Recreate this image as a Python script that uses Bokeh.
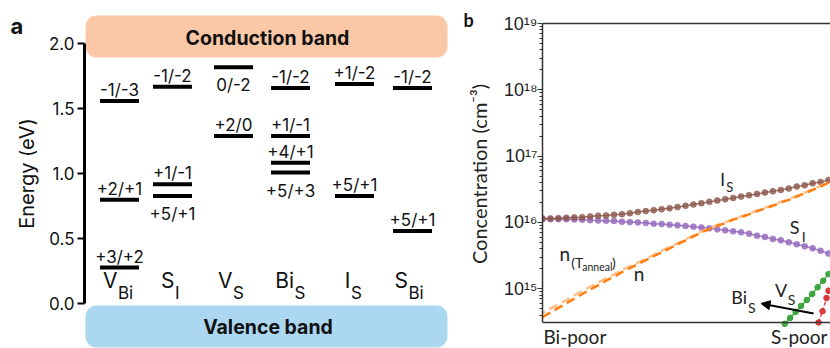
import numpy as np
from math import pi
from bokeh.plotting import figure
from bokeh.models import Range1d, FixedTicker, PrintfTickFormatter, Arrow, NormalHead, CustomJSTickFormatter, Span
from bokeh.layouts import row
from bokeh.embed import file_html
from bokeh.resources import INLINE
from bokeh.core.properties import value

# ---------------- data: panel a (defect transition levels) ----------------
defect_main = ["V", "S", "V", "Bi", "I", "S"]
defect_sub = ["Bi", "I", "S", "S", "S", "Bi"]
level_defect = [0, 0, 0, 1, 1, 1, 2, 2, 3, 3, 3, 3, 4, 4, 5, 5]
level_energy = [1.56, 0.80, 0.28, 1.67, 0.92, 0.83, 1.82, 1.29,
                1.66, 1.29, 1.085, 1.01, 1.69, 0.83, 1.66, 0.56]
level_label = ["-1/-3", "+2/+1", "+3/+2", "-1/-2", "+1/-1", "+5/+1", "0/-2", "+2/0",
               "-1/-2", "+1/-1", "+4/+1", "+5/+3", "+1/-2", "+5/+1", "-1/-2", "+5/+1"]
level_side = ["above", "above", "above", "above", "above", "below", "below", "above",
              "above", "above", "above", "below", "above", "above", "above", "above"]
energy_ticks = [0.0, 0.5, 1.0, 1.5, 2.0]

# ---------------- data: panel b (concentrations, cm^-3) ----------------
mu = list(np.linspace(0.0, 1.0, 37))   # Bi-poor (0) -> S-poor (1)
conc_IS = [1.15e16, 1.15e16, 1.16e16, 1.175e16, 1.19e16, 1.20e16, 1.23e16, 1.26e16, 1.27e16,
           1.30e16, 1.33e16, 1.38e16, 1.43e16, 1.48e16, 1.53e16, 1.58e16, 1.64e16, 1.70e16,
           1.78e16, 1.86e16, 1.95e16, 2.04e16, 2.14e16, 2.24e16, 2.34e16, 2.45e16, 2.57e16,
           2.69e16, 2.82e16, 2.95e16, 3.09e16, 3.24e16, 3.47e16, 3.63e16, 3.89e16, 4.07e16, 4.37e16]
conc_SI = [1.12e16, 1.12e16, 1.12e16, 1.12e16, 1.11e16, 1.10e16, 1.08e16, 1.07e16, 1.06e16,
           1.05e16, 1.02e16, 1.01e16, 1.00e16, 9.77e15, 9.55e15, 9.44e15, 9.23e15, 9.02e15,
           8.81e15, 8.61e15, 8.41e15, 8.13e15, 7.85e15, 7.59e15, 7.33e15, 7.08e15, 6.76e15,
           6.31e15, 6.03e15, 5.62e15, 5.37e15, 5.01e15, 4.68e15, 4.37e15, 4.07e15, 3.72e15, 3.39e15]
conc_n = [3.72e14, 4.37e14, 5.13e14, 6.03e14, 7.08e14, 8.32e14, 9.77e14, 1.12e15, 1.32e15,
          1.51e15, 1.78e15, 2.04e15, 2.34e15, 2.69e15, 3.09e15, 3.55e15, 4.07e15, 4.68e15,
          5.37e15, 6.17e15, 7.08e15, 7.94e15, 8.91e15, 9.77e15, 1.10e16, 1.20e16, 1.32e16,
          1.48e16, 1.62e16, 1.78e16, 2.00e16, 2.19e16, 2.45e16, 2.75e16, 3.09e16, 3.47e16, 3.98e16]
conc_n_anneal = [4.27e14, 5.01e14, 5.82e14, 6.76e14, 7.94e14, 9.23e14, 1.07e15, 1.23e15, 1.45e15,
                 1.64e15, 1.91e15, 2.19e15, 2.48e15, 2.82e15, 3.24e15, 3.72e15, 4.27e15, 4.84e15,
                 5.56e15, 6.31e15, 7.24e15, 8.13e15, 9.12e15, 1.00e16, 1.12e16, 1.23e16, 1.35e16,
                 1.51e16, 1.66e16, 1.82e16, 2.04e16, 2.24e16, 2.51e16, 2.82e16, 3.16e16, 3.55e16, 4.07e16]
mu_VS = [0.847, 0.866, 0.885, 0.904, 0.924, 0.943, 0.962, 0.981, 1.0]
conc_VS = [2.95e14, 3.63e14, 4.47e14, 5.50e14, 6.76e14, 8.32e14, 1.05e15, 1.32e15, 1.66e15]
mu_BiS = [0.965, 0.979, 0.993, 1.0]
conc_BiS = [3.09e14, 4.57e14, 7.24e14, 9.33e14]
conc_ticks = [1e15, 1e16, 1e17, 1e18, 1e19]
x_end_labels = ["Bi-poor", "S-poor"]

# ---------------- layout / style ----------------
FONT_A = "Inter"
FONT_B = "Lato"
LIFT = {FONT_A: 0.22, FONT_B: 0.45}          # baseline correction (fraction of font size)
H = 348
PXA = 130.0                                  # px per eV in panel a
col_center = [119, 172, 233, 290, 354, 412]  # column centres (panel a x units = px)
sub_split = [-2, 2, -1, 3.5, -4, -4.5]
BROWN, PURPLE, GREEN, RED = "#8c564b", "#9467bd", "#2ca02c", "#d62728"
ORANGE, LORANGE = "#ff7f0e", "#ffbf88"
AXC = "#333"


def lift(font, size):
    return LIFT[font] * size


def ea(Y):
    """screen row (px) -> energy, for panel-a layout"""
    return (303.3 - Y) / PXA


def bx(X):
    return (X - 540) / 288.0


def by(Y):
    return 10 ** (19 - (Y - 23) / 66.3)


CONC_MIN = by(322)   # bottom of the concentration axis
conc_minor = [m * 10.0 ** k for k in range(14, 19) for m in range(2, 10) if m * 10.0 ** k >= CONC_MIN]

common = dict(output_backend="svg", toolbar_location=None, title=None, outline_line_color=None,
              min_border_top=0, min_border_bottom=0, min_border_right=0)

# ======================= left strip: panel letter + y label =======================
p0 = figure(width=45, height=H, x_range=Range1d(0, 45), y_range=Range1d(H, 0),
            x_axis_location=None, y_axis_location=None, min_border_left=0, **common)
p0.grid.visible = False
p0.text(x=[10], y=[30 - lift(FONT_A, 22)], text=["a"], text_font=value(FONT_A), text_font_style="bold",
        text_font_size="22px", text_align="left", text_baseline="alphabetic", text_color="#111")
p0.text(x=[31 - lift(FONT_A, 20)], y=[173], text=["Energy (eV)"], angle=pi / 2, text_font=value(FONT_A),
        text_font_size="20px", text_align="center", text_baseline="alphabetic", text_color="#111")

# ======================= panel a =======================
pa = figure(width=455, height=H, x_range=Range1d(84, 500), y_range=Range1d(ea(H), ea(0)),
            x_axis_location=None, min_border_left=39, **common)
pa.grid.visible = False
ya = pa.yaxis[0]
ya.ticker = FixedTicker(ticks=energy_ticks)
ya.formatter = PrintfTickFormatter(format="%.1f")
ya.bounds = (energy_ticks[0], energy_ticks[-1])
ya.axis_line_width = 3
ya.axis_line_color = "black"
ya.major_tick_line_width = 2
ya.major_tick_out = 7
ya.major_tick_in = 0
ya.minor_tick_line_color = None
ya.major_label_standoff = 3
ya.major_label_text_font = FONT_A
ya.major_label_text_font_size = "17px"
ya.major_label_text_color = "#111"

# band boxes
pa.quad(left=85, right=447, top=ea(15), bottom=ea(57), fill_color="#fbc8a7",
        line_color=None, border_radius=11)
pa.quad(left=85, right=447, top=ea(305), bottom=ea(347), fill_color="#abd7f1",
        line_color=None, border_radius=11)
pa.text(x=[267], y=[ea(37.5)], text=["Conduction band"], text_font=value(FONT_A),
        text_font_style="bold", text_font_size="19.5px", text_align="center",
        text_baseline="middle", text_color="#111")
pa.text(x=[267.5], y=[ea(326.5)], text=["Valence band"], text_font=value(FONT_A),
        text_font_style="bold", text_font_size="19.5px", text_align="center",
        text_baseline="middle", text_color="#111")

# levels
bx0 = [col_center[d] - 19.5 for d in level_defect]
bx1 = [col_center[d] + 19.5 for d in level_defect]
pa.segment(x0=bx0, y0=level_energy, x1=bx1, y1=level_energy, line_width=4, line_color="black")
lab_x = [col_center[d] for d in level_defect]
lab_gap = [(7 if s == "above" else -22) + lift(FONT_A, 17) for s in level_side]
lab_y = [e + g / PXA for e, g in zip(level_energy, lab_gap)]
pa.text(x=lab_x, y=lab_y, text=level_label, text_font=value(FONT_A), text_font_size="17px",
        text_align="center", text_baseline="alphabetic", text_color="#111")

# defect names with subscripts
split_x = [c + s for c, s in zip(col_center, sub_split)]
pa.text(x=split_x, y=[ea(285 - lift(FONT_A, 21))] * 6, text=defect_main, text_font=value(FONT_A),
        text_font_size="21px", text_align="right", text_baseline="alphabetic", text_color="#111")
pa.text(x=[s + 0.5 for s in split_x], y=[ea(296 - lift(FONT_A, 17))] * 6, text=defect_sub,
        text_font=value(FONT_A), text_font_size="17px", text_align="left",
        text_baseline="alphabetic", text_color="#111")

# panel-b letter and y-axis title live in the gap between the panels
pa.text(x=[463], y=[ea(27.3 - lift(FONT_B, 18))], text=["b"], text_font=value(FONT_B),
        text_font_style="bold", text_font_size="18px", text_align="left",
        text_baseline="alphabetic", text_color="#111")
pa.text(x=[487 - lift(FONT_B, 20)], y=[ea(173.5)], text=["Concentration (cm\u207b\u00b3)"], angle=pi / 2,
        text_font=value(FONT_B), text_font_size="20px", text_align="center",
        text_baseline="alphabetic", text_color="#222")

# ======================= panel b =======================
pb = figure(width=330, height=H, x_range=Range1d(0, bx(830)), y_range=Range1d(by(H), by(0)),
            y_axis_type="log", x_axis_location=None, min_border_left=40, **common)
pb.grid.visible = False
yb = pb.yaxis[0]
yb.ticker = FixedTicker(ticks=conc_ticks, minor_ticks=conc_minor)
yb.formatter = CustomJSTickFormatter(code="""
const sup = {"0":"\u2070","1":"\u00b9","2":"\u00b2","3":"\u00b3","4":"\u2074","5":"\u2075",
             "6":"\u2076","7":"\u2077","8":"\u2078","9":"\u2079","-":"\u207b"};
const e = Math.round(Math.log10(tick));
return "10" + String(e).split("").map(c => sup[c]).join("");
""")
yb.bounds = (CONC_MIN, conc_ticks[-1])
yb.axis_line_color = AXC
yb.axis_line_width = 1.5
yb.major_tick_line_color = AXC
yb.minor_tick_line_color = AXC
yb.major_tick_out = 5
yb.major_tick_in = 0
yb.minor_tick_out = 3
yb.minor_tick_in = 0
yb.major_label_standoff = 0
yb.major_label_text_font = "Liberation Sans"
yb.major_label_text_font_size = "18px"
yb.major_label_text_color = "#222"

# top and bottom frame lines of panel b
pb.add_layout(Span(location=conc_ticks[-1], dimension="width", line_color=AXC, line_width=1.5))
pb.add_layout(Span(location=CONC_MIN, dimension="width", line_color=AXC, line_width=1.5))

# curves
pb.line(mu, conc_SI, line_color=PURPLE, line_width=1.5, line_alpha=0.8)
pb.scatter(mu, conc_SI, size=6, fill_color=PURPLE, line_color=PURPLE, fill_alpha=0.8, line_alpha=0.5)
pb.line(mu, conc_IS, line_color=BROWN, line_width=1.5, line_alpha=0.8)
pb.scatter(mu, conc_IS, size=6, fill_color=BROWN, line_color=BROWN, fill_alpha=0.8, line_alpha=0.5)
pb.line(mu, conc_n_anneal, line_color=LORANGE, line_width=2.5, line_dash="9 5", line_dash_offset=6)
pb.line(mu, conc_n, line_color=ORANGE, line_width=2.5, line_dash="9 5")
pb.line(mu_VS, conc_VS, line_color=GREEN, line_width=1.5, line_alpha=0.8)
pb.scatter(mu_VS, conc_VS, size=5.5, fill_color=GREEN, line_color=GREEN, fill_alpha=0.85)
pb.line(mu_BiS, conc_BiS, line_color=RED, line_width=1.5, line_dash="4 2", line_alpha=0.8)
pb.scatter(mu_BiS, conc_BiS, size=5.5, fill_color=RED, line_color=RED, fill_alpha=0.85)


def btext(X, Y, txt, size, align="left"):
    pb.text(x=[bx(X)], y=[by(Y - lift(FONT_B, size))], text=[txt], text_font=value(FONT_B),
            text_font_size=f"{size}px", text_align=align, text_baseline="alphabetic",
            text_color="#222")


btext(719, 187, "I", 17)
btext(725, 192, "S", 13)
btext(789, 235, "S", 18)
btext(801, 242, "I", 14)
btext(557, 262, "n", 19)
btext(569, 268, "(T", 14)
btext(580, 271, "anneal", 10.5)
btext(610, 268, ")", 14)
btext(632, 282, "n", 19)
btext(774, 298, "V", 18)
btext(787, 305, "S", 14)
btext(730, 305, "Bi", 18)
btext(747, 313, "S", 14)
btext(541, 345, x_end_labels[0], 19, "left")
btext(827, 345, x_end_labels[1], 19, "right")
pb.add_layout(Arrow(x_start=bx(813), y_start=by(313), x_end=bx(760), y_end=by(303),
                    line_width=2, line_color="black",
                    end=NormalHead(size=9, fill_color="black", line_color="black")))

layout = row(p0, pa, pb)
open("out.html", "w").write(file_html(layout, INLINE))
